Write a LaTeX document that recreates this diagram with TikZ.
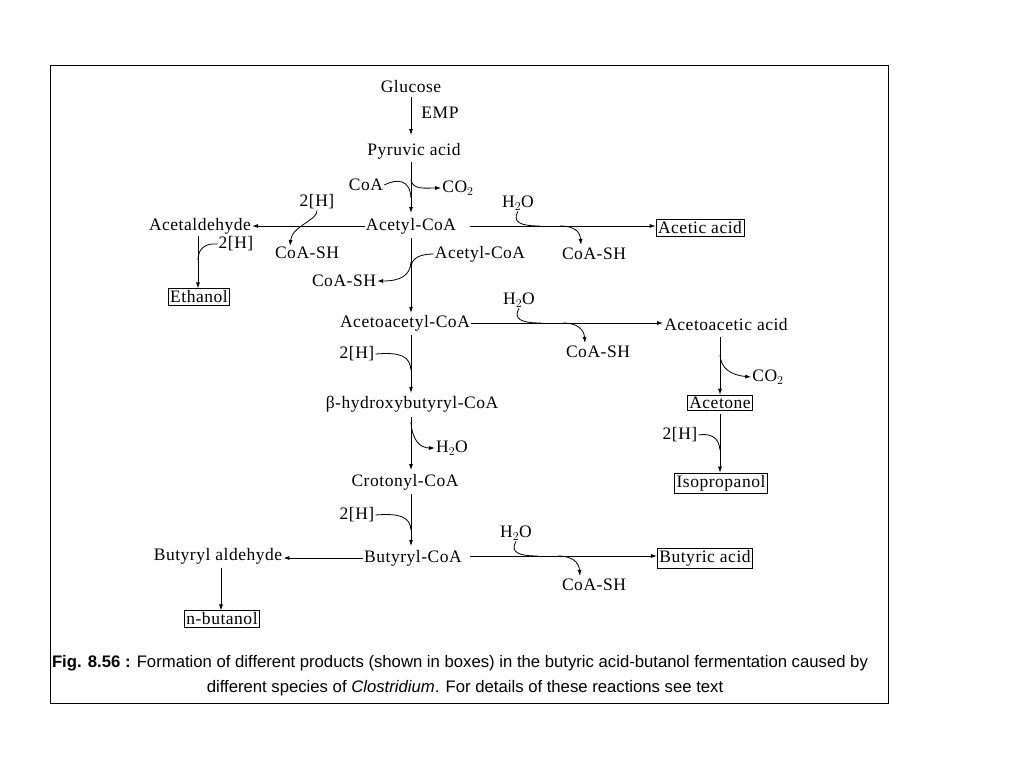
\documentclass[tikz,border=0pt]{standalone}
\usepackage{fontspec}
\setmainfont{Liberation Serif}[LetterSpace=3]
\newfontfamily\capfont{Liberation Sans}
\usetikzlibrary{arrows.meta}
\begin{document}
\begin{tikzpicture}[x=1pt,y=-1pt,
  t/.style={inner sep=1pt,font=\fontsize{17.5}{19}\selectfont},
  bx/.style={t,draw,line width=0.8pt,inner sep=2pt},
  ar/.style={line width=0.8pt,-{Latex[length=6pt,width=4pt]}},
  ln/.style={line width=0.8pt}]
\useasboundingbox (0,0) rectangle (1024,768);
\draw[line width=1pt] (50,65) rectangle (888,703);
\node[t] (glu) at (411,87) {Glucose};
\node[t] (emp) at (440,113) {EMP};
\node[t] (pyr) at (414,151) {Pyruvic acid};
\node[t] (coa1) at (366,185) {CoA};
\node[t] (co21) at (458,188) {CO$_2$};
\node[t] (acc) at (411,226) {Acetyl-CoA};
\node[t] (ald) at (200,226) {Acetaldehyde};
\node[t] (h2a) at (317,202) {2[H]};
\node[t] (csh1) at (307,253) {CoA-SH};
\node[t] (h2b) at (236,244) {2[H]};
\node[bx] (eth) at (199,297) {Ethanol};
\node[t] (w1) at (518,203) {H$_2$O};
\node[t] (csh2) at (594,254) {CoA-SH};
\node[bx] (aca) at (700,228) {Acetic acid};
\node[t] (acc2) at (480,254) {Acetyl-CoA};
\node[t] (csh3) at (344,281) {CoA-SH};
\node[t] (aac) at (405,323) {Acetoacetyl-CoA};
\node[t] (w2) at (519,300) {H$_2$O};
\node[t] (csh4) at (598,352) {CoA-SH};
\node[t] (aaa) at (726,325) {Acetoacetic acid};
\node[t] (h2c) at (357,354) {2[H]};
\node[t] (hbc) at (412,404) {β-hydroxybutyryl-CoA};
\node[t] (w3) at (452,448) {H$_2$O};
\node[t] (cro) at (405,482) {Crotonyl-CoA};
\node[t] (h2d) at (357,515) {2[H]};
\node[t] (buc) at (413,558) {Butyryl-CoA};
\node[t] (bal) at (218,556) {Butyryl aldehyde};
\node[bx] (nbu) at (222,619) {n-butanol};
\node[t] (w4) at (516,533) {H$_2$O};
\node[t] (csh5) at (594,585) {CoA-SH};
\node[bx] (bua) at (705,558) {Butyric acid};
\node[t] (co22) at (768,377) {CO$_2$};
\node[bx] (ace) at (720,403) {Acetone};
\node[t] (h2e) at (680,435) {2[H]};
\node[bx] (iso) at (721,483) {Isopropanol};
% main chain
\draw[ar] (411,97) -- (411,135);
\draw[ar] (411,162) -- (411,213);
\draw[ar] (411,238) -- (411,313);
\draw[ar] (411,335) -- (411,393);
\draw[ar] (411,417) -- (411,470);
\draw[ar] (411,494) -- (411,546);
% side curves on main
\draw[ln] (coa1.east) .. controls (398,178) and (410,180) .. (411,198);
\draw[ar] (411,180) .. controls (413,190) and (425,188) .. (co21.west);
\draw[ln] (acc2.west) .. controls (420,254) and (411,258) .. (411,268);
\draw[ar] (411,262) .. controls (410,276) and (400,281) .. (csh3.east);
\draw[ln] (h2c.east) .. controls (400,352) and (410,356) .. (411,370);
\draw[ar] (411,422) .. controls (412,440) and (420,448) .. (w3.west);
\draw[ln] (h2d.east) .. controls (400,513) and (410,517) .. (411,530);
% left branches
\draw[ar] (acc.west) -- (ald.east |- acc.west);
\draw[ar] (h2a.south) .. controls (318,220) and (292,226) .. (csh1.north -| 290,0);
\draw[ar] (198,236) -- (eth.north -| 198,0);
\draw[ln] (h2b.west) .. controls (206,243) and (198,248) .. (198,260);
\draw[ar] (buc.west) -- (bal.east |- buc.west);
\draw[ar] (221,568) -- (nbu.north -| 221,0);
% right branches
\draw[ar] (470,226) -- (aca.west |- 0,226);
\draw[ln] (w1.south) .. controls (512,222) and (520,226) .. (540,226);
\draw[ar] (560,226) .. controls (575,226) and (580,232) .. (581,245);
\draw[ar] (aac.east) -- (aaa.west |- aac.east);
\draw[ln] (w2.south) .. controls (513,319) and (521,323) .. (541,323);
\draw[ar] (563,323) .. controls (578,323) and (584,330) .. (585,343);
\draw[ar] (470,556) -- (bua.west |- 0,556);
\draw[ln] (w4.south) .. controls (510,552) and (518,556) .. (538,556);
\draw[ar] (558,556) .. controls (573,556) and (579,563) .. (580,576);
\draw[ar] (720,337) -- (ace.north -| 720,0);
\draw[ar] (720,355) .. controls (721,368) and (730,375) .. (co22.west);
\draw[ar] (720,414) -- (iso.north -| 720,0);
\draw[ln] (h2e.east) .. controls (710,433) and (719,437) .. (720,450);
% caption
\node[font=\capfont\fontsize{16.7}{19}\selectfont] (cap1) at (460,663) {\textbf{Fig. 8.56 :} Formation of different products (shown in boxes) in the butyric acid-butanol fermentation caused by};
\node[font=\capfont\fontsize{16.7}{19}\selectfont] (cap2) at (465,688) {different species of \textit{Clostridium}. For details of these reactions see text};
\end{tikzpicture}
\end{document}
